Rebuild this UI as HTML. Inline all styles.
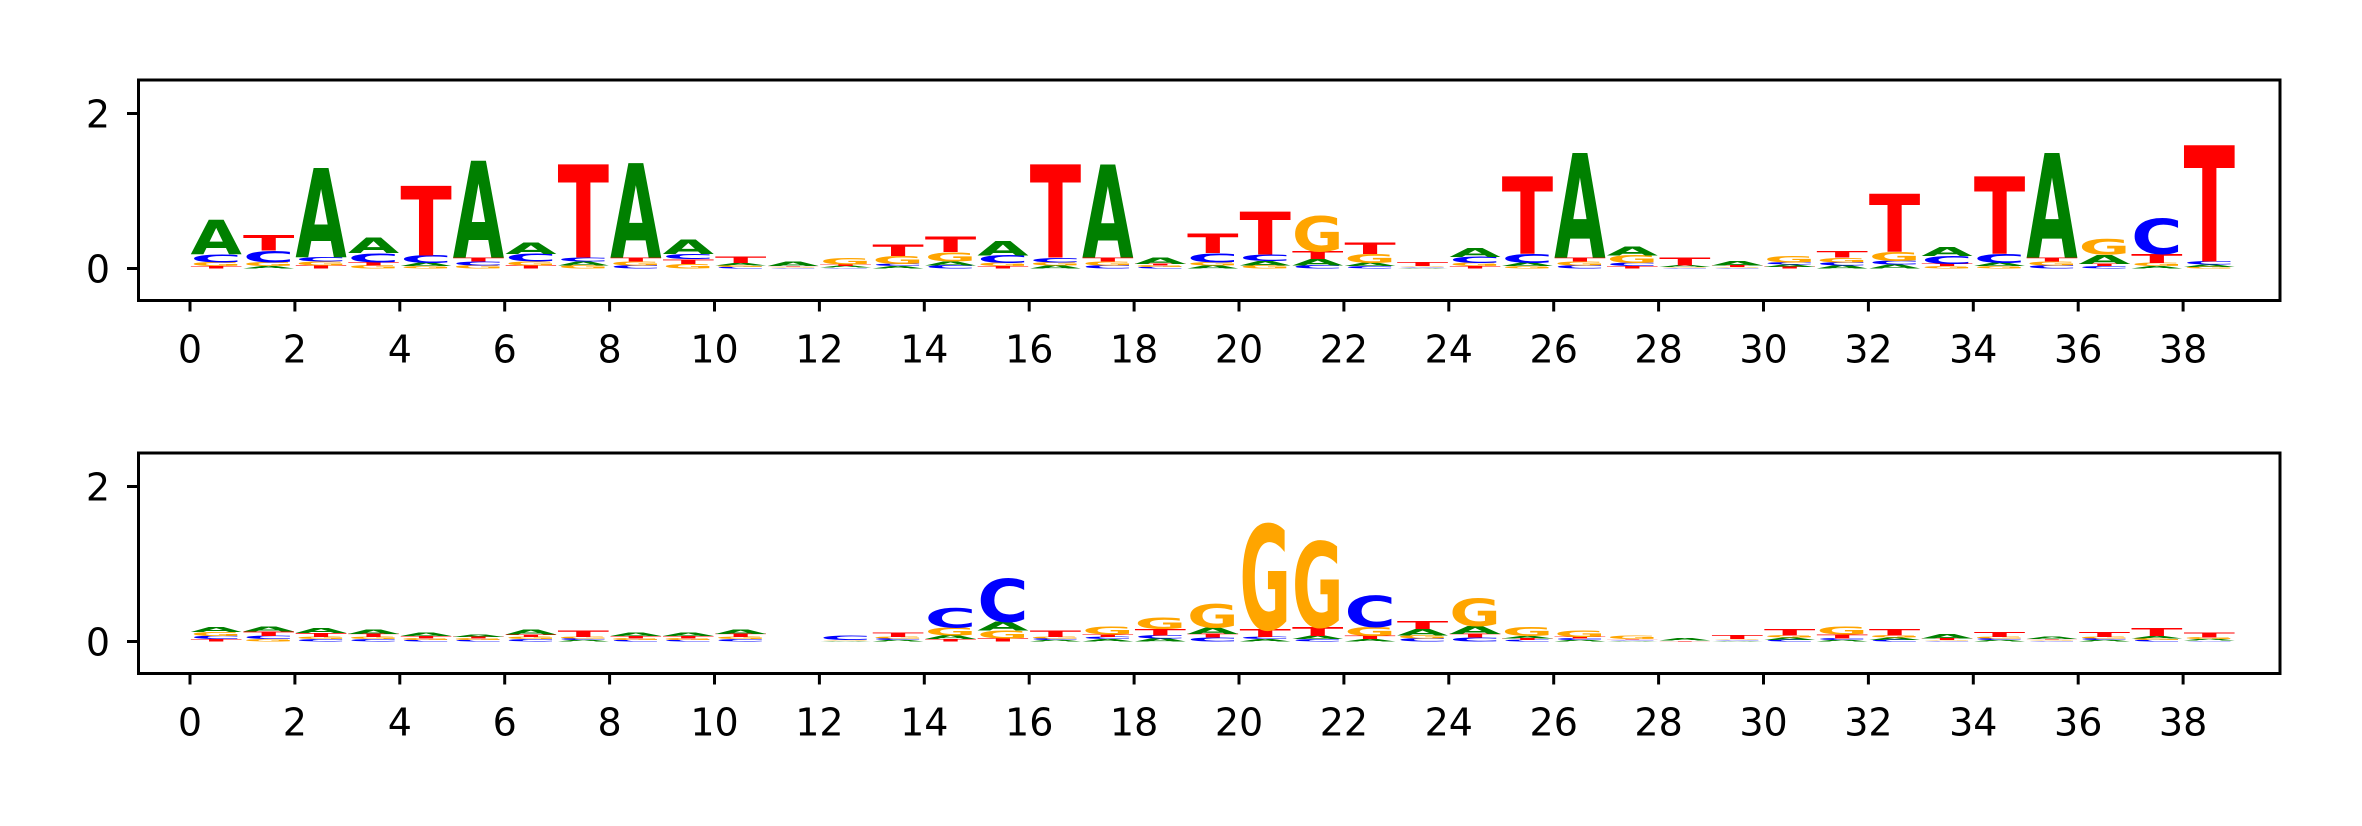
<!DOCTYPE html>
<html><head><meta charset="utf-8"><style>
html,body{margin:0;padding:0;background:#fff;}
svg{display:block;}
text.tick{font-family:"DejaVu Sans","Liberation Sans",sans-serif;font-size:38px;fill:#000;}
</style></head><body>
<svg id="chart" width="2362" height="826" viewBox="0 0 2362 826" xmlns="http://www.w3.org/2000/svg">
<rect width="2362" height="826" fill="#fff"/>
</svg>
<script>
// Position heights (bits) for each base, positions 0..38
const topA = [0.44,0.03,1.15,0.20,0.04,1.25,0.15,0.05,1.22,0.18,0.03,0.06,0.02,0.03,0.05,0.18,0.04,1.20,0.08,0.04,0.06,0.08,0.04,0.01,0.12,0.04,1.35,0.12,0.02,0.06,0.03,0.04,0.05,0.12,0.04,1.35,0.12,0.03,0.03];
const topC = [0.10,0.15,0.06,0.12,0.10,0.05,0.10,0.05,0.04,0.07,0.02,0.01,0.01,0.03,0.04,0.10,0.06,0.04,0.02,0.12,0.08,0.04,0.03,0.01,0.08,0.12,0.04,0.04,0.01,0.01,0.03,0.04,0.05,0.10,0.12,0.04,0.03,0.45,0.04];
const topG = [0.05,0.05,0.05,0.04,0.03,0.04,0.05,0.04,0.05,0.06,0.02,0.01,0.08,0.10,0.12,0.04,0.04,0.05,0.02,0.04,0.04,0.45,0.12,0.01,0.04,0.03,0.05,0.10,0.01,0.01,0.08,0.06,0.12,0.03,0.03,0.05,0.20,0.04,0.02];
const topT = [0.03,0.20,0.04,0.04,0.90,0.05,0.04,1.20,0.05,0.06,0.08,0.01,0.02,0.15,0.20,0.03,1.20,0.05,0.02,0.25,0.55,0.10,0.15,0.05,0.03,1.00,0.05,0.03,0.10,0.02,0.02,0.08,0.75,0.03,1.00,0.05,0.03,0.12,1.50];
const botA = [0.07,0.07,0.07,0.06,0.04,0.03,0.07,0.02,0.04,0.04,0.06,0.00,0.01,0.02,0.05,0.12,0.02,0.03,0.04,0.08,0.03,0.04,0.03,0.08,0.10,0.03,0.02,0.01,0.03,0.01,0.03,0.02,0.03,0.06,0.02,0.03,0.02,0.03,0.02];
const botC = [0.04,0.04,0.03,0.03,0.02,0.02,0.03,0.02,0.02,0.02,0.03,0.00,0.06,0.02,0.25,0.55,0.02,0.03,0.04,0.05,0.03,0.03,0.40,0.04,0.05,0.02,0.02,0.01,0.00,0.01,0.02,0.02,0.02,0.01,0.02,0.01,0.02,0.02,0.01];
const botG = [0.05,0.03,0.03,0.03,0.02,0.02,0.03,0.02,0.02,0.02,0.03,0.00,0.01,0.02,0.10,0.10,0.02,0.10,0.15,0.30,1.35,1.10,0.12,0.04,0.35,0.12,0.08,0.04,0.00,0.01,0.03,0.10,0.03,0.01,0.02,0.01,0.02,0.02,0.02];
const botT = [0.03,0.06,0.05,0.04,0.03,0.02,0.03,0.08,0.03,0.03,0.04,0.00,0.00,0.06,0.03,0.04,0.08,0.03,0.08,0.05,0.10,0.12,0.04,0.10,0.05,0.02,0.02,0.01,0.01,0.05,0.08,0.05,0.08,0.02,0.07,0.01,0.07,0.10,0.07];
const xTicks = [0,2,4,6,8,10,12,14,16,18,20,22,24,26,28,30,32,34,36,38];
const yTicks = [0,2];

const NS = "http://www.w3.org/2000/svg";
const svg = document.getElementById('chart');
const X0 = 190, XU = 52.45;
const xs = v => X0 + XU * v;
const UNIT = 77.5;
const colors = {A:'#008000', C:'#0000ff', G:'#ffa500', T:'#ff0000'};
const adv = {A:77.4, C:73.4, G:82.1, T:68.2};

function mk(tag, attrs, parent) {
  const e = document.createElementNS(NS, tag);
  for (const k in attrs) e.setAttribute(k, attrs[k]);
  parent.appendChild(e);
  return e;
}

function panel(name, top, A, C, G, T) {
  const g = mk('g', {}, svg);
  
  
  const y0 = top + 188.5;
  const ys = v => y0 - UNIT * v;
  const n = A.length;
  for (let i = 0; i < n; i++) {
    const col = mk('g', {}, g);
    
    
    const items = [['A', A[i]], ['C', C[i]], ['G', G[i]], ['T', T[i]]].sort((a, b) => a[1] - b[1]);
    let base = 0;
    const cx = xs(i + 0.5);
    const w = XU * 0.98;
    for (const [b, h] of items) {
      if (h <= 0) continue;
      const yb = ys(base), hpx = UNIT * h;
      const t = mk('text', {
        x: 0, y: 0, 'text-anchor': 'middle',
        'font-family': '"DejaVu Sans","Liberation Sans",sans-serif',
        'font-weight': 'bold', 'font-size': 100, fill: colors[b],
        transform: `translate(${cx},${yb}) scale(${w / adv[b]},${hpx / 72.9})`
      }, col);
      
      
      t.textContent = b;
      base += h;
    }
  }
  const box = mk('rect', {x: 138.5, y: top, width: 2280 - 138.5, height: 220.5, fill: 'none', stroke: '#000', 'stroke-width': 3}, g);
  
  
  const bottom = top + 220.5;
  for (const v of xTicks) {
    const x = xs(v);
    const tk = mk('line', {x1: x, x2: x, y1: bottom, y2: bottom + 11, stroke: '#000', 'stroke-width': 3}, g);
    
    
    const lb = mk('text', {x: x, y: bottom + 62, 'text-anchor': 'middle', class: 'tick'}, g);
    
    
    lb.textContent = v;
  }
  for (const v of yTicks) {
    const y = ys(v);
    const tk = mk('line', {x1: 127, x2: 138.5, y1: y, y2: y, stroke: '#000', 'stroke-width': 3}, g);
    
    
    const lb = mk('text', {x: 110, y: y + 14, 'text-anchor': 'end', class: 'tick'}, g);
    
    
    lb.textContent = v;
  }
}
panel('top-logo-panel', 80, topA, topC, topG, topT);
panel('bottom-logo-panel', 453, botA, botC, botG, botT);
</script>
</body></html>
